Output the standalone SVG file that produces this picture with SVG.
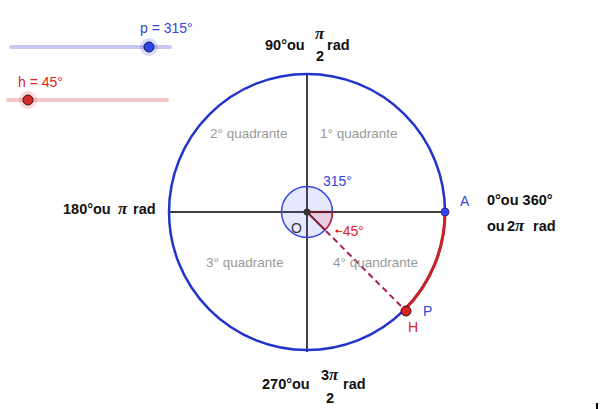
<svg xmlns="http://www.w3.org/2000/svg" width="609" height="409" viewBox="0 0 609 409">
<style>
.lbl{font-family:"Liberation Sans",Arial,sans-serif;font-weight:bold;font-size:14.5px;fill:#111}
.pi{font-family:"Liberation Serif","Times New Roman",serif;font-style:italic;font-weight:bold;font-size:17px}
.q{font-family:"Liberation Sans",Arial,sans-serif;font-size:13.5px;fill:#999}
.axis{stroke:#404040;stroke-width:2;fill:none}
.blue{fill:#3344dd;font-family:"Liberation Sans",Arial,sans-serif;font-size:14px}
.red{fill:#dd2222;font-family:"Liberation Sans",Arial,sans-serif;font-size:14px}
</style>
<rect width="609" height="409" fill="#fff"/>
<g id="slider-p">
<line x1="11" y1="47" x2="170" y2="47" stroke="#c8c8f2" stroke-width="4" stroke-linecap="round"/>
<circle cx="149" cy="47" r="9" fill="#3344ee" fill-opacity="0.2"/>
<circle cx="149" cy="47" r="5" fill="#2a44f0" stroke="#111840" stroke-width="1"/>
<text class="blue" x="140" y="33">p = 315°</text>
</g>
<g id="slider-h">
<line x1="8" y1="100" x2="167" y2="100" stroke="#f2c8c8" stroke-width="4" stroke-linecap="round"/>
<circle cx="28" cy="100" r="9" fill="#ee3333" fill-opacity="0.18"/>
<circle cx="28" cy="100" r="5" fill="#d42a2a" stroke="#401111" stroke-width="1"/>
<text class="red" x="18" y="87">h = 45°</text>
</g>
<g id="connectors">
<line class="axis" x1="170" y1="212" x2="445" y2="212"/>
<line class="axis" x1="307" y1="75" x2="307" y2="352"/>
<circle cx="307" cy="212" r="138" fill="none" stroke="#2233cc" stroke-width="2.5"/>
<path d="M445,212 A138,138 0 0,1 404.6,309.6" fill="none" stroke="#cc2222" stroke-width="3"/>
<circle cx="307" cy="212" r="25.5" fill="#3344ee" fill-opacity="0.12" stroke="#3344ee" stroke-width="1.5"/>
<path d="M307,212 L332.5,212 A25.5,25.5 0 0,1 325,230 Z" fill="#ff2222" fill-opacity="0.12" stroke="none"/>
<path d="M332.5,212 A25.5,25.5 0 0,1 325,230" fill="none" stroke="#dd2222" stroke-width="1.5"/>
<line x1="307" y1="212" x2="332.5" y2="212" stroke="#6a1a2a" stroke-width="2.2"/>
<line x1="307" y1="212" x2="325" y2="230" stroke="#8a1a3a" stroke-width="2.2"/>
<line x1="326" y1="231" x2="403" y2="308" stroke="#a8205a" stroke-width="2" stroke-dasharray="6,4"/>
</g>
<g id="quadrants">
<text class="q" x="210" y="138">2° quadrante</text>
<text class="q" x="320" y="138">1° quadrante</text>
<text class="q" x="206" y="267">3° quadrante</text>
<text class="q" x="333" y="267">4° quandrante</text>
</g>
<g id="O">
<circle cx="307" cy="212" r="3.5" fill="#333"/>
<text x="291" y="233" font-family="Liberation Sans,Arial,sans-serif" font-size="14" fill="#333">O</text>
</g>
<g id="angles">
<text class="blue" x="323" y="186">315°</text>
<circle cx="337" cy="231" r="1.6" fill="#dd2222"/>
<text class="red" x="338" y="236">-45°</text>
</g>
<g id="A">
<circle cx="445" cy="212" r="4" fill="#3344ee" stroke="#222266" stroke-width="0.8"/>
<text class="blue" x="460" y="206">A</text>
</g>
<g id="P">
<circle cx="406" cy="311" r="5" fill="#dd2222" stroke="#331111" stroke-width="1"/>
<text class="blue" x="423" y="316">P</text>
<text class="red" x="408" y="332">H</text>
</g>
<g id="label-90">
<text class="lbl" x="265" y="50">90°ou</text>
<text class="lbl pi" x="315" y="39">π</text>
<text class="lbl" x="316" y="61">2</text>
<text class="lbl" x="327" y="50">rad</text>
</g>
<g id="label-180">
<text class="lbl" x="63" y="214">180°ou</text>
<text class="lbl pi" x="118" y="214">π</text>
<text class="lbl" x="133" y="214">rad</text>
</g>
<g id="label-0">
<text class="lbl" x="487" y="205">0°ou 360°</text>
<text class="lbl" x="487" y="231">ou</text>
<text class="lbl" x="507" y="231">2<tspan class="pi">π</tspan></text>
<text class="lbl" x="533" y="231">rad</text>
</g>
<g id="label-270">
<text class="lbl" x="262" y="389">270°ou</text>
<text class="lbl" x="321" y="380">3<tspan class="pi">π</tspan></text>
<text class="lbl" x="326" y="403">2</text>
<text class="lbl" x="343" y="389">rad</text>
</g>
<rect x="596" y="403" width="2" height="6" fill="#000"/>
</svg>
